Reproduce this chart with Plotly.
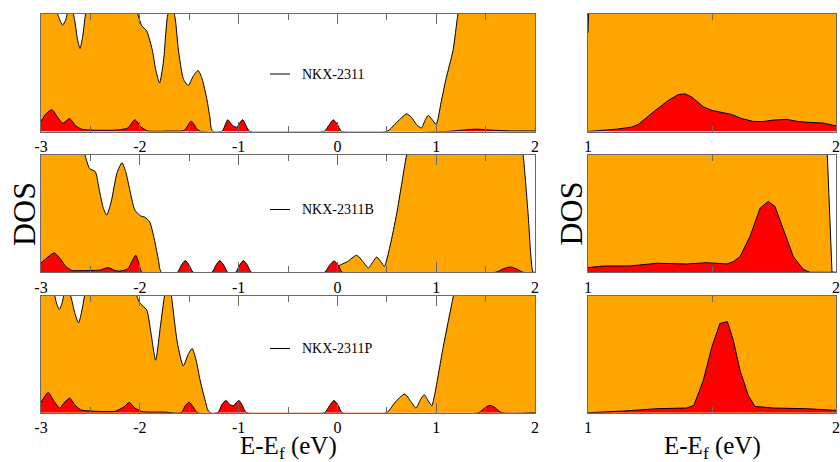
import plotly.graph_objects as go

# ---------------- data (E - Ef in eV, DOS in arbitrary units) ----------------
names = ["NKX-2311", "NKX-2311B", "NKX-2311P"]

# left panels, total DOS (orange) and projected DOS (red)
e_tot_a = [-3.0, -2.9, -2.85, -2.81, -2.78, -2.75, -2.72, -2.69, -2.66, -2.63, -2.605, -2.58, -2.55,
           -2.5, -2.3, -2.1, -2.02,
           -1.98, -1.93, -1.87, -1.84, -1.80, -1.76, -1.72, -1.68, -1.64, -1.61, -1.56, -1.51, -1.46,
           -1.41, -1.37, -1.32, -1.29, -1.26, 0.50, 0.58, 0.64, 0.70, 0.75, 0.80, 0.85, 0.89, 0.92,
           0.96, 1.0, 1.05, 1.10, 1.17, 1.22, 1.3, 2.0]
dos_tot_a = [1.5, 1.3, 1.05, 0.95, 0.906, 0.95, 1.05, 1.05, 0.95, 0.78, 0.707, 0.8, 1.0,
             1.4, 1.6, 1.3, 1.0,
             0.9, 0.855, 0.68, 0.53, 0.413, 0.6, 0.98, 1.1, 0.95, 0.70, 0.45, 0.39, 0.47,
             0.52, 0.45, 0.27, 0.12, 0.0, 0.0, 0.06, 0.11, 0.15, 0.12, 0.06, 0.03, 0.10, 0.137,
             0.10, 0.06, 0.25, 0.45, 0.69, 1.0, 1.4, 1.5]
e_pdos_a = [-3.0, -2.95, -2.89, -2.83, -2.78, -2.71, -2.65, -2.59, -2.5, -2.3, -2.2, -2.12, -2.05,
            -1.99, -1.92, -1.7, -1.55, -1.48, -1.42, -1.38, -1.17, -1.11, -1.06, -1.02, -0.96,
            -0.885, -0.136, -0.08, -0.042, 0.0, 0.043, 1.1, 1.25, 1.39, 1.55, 1.75, 2.0]
dos_pdos_a = [0.085, 0.15, 0.185, 0.12, 0.07, 0.11, 0.05, 0.02, 0.012, 0.01, 0.015, 0.03, 0.10,
              0.04, 0.005, 0.004, 0.01, 0.088, 0.02, 0.0, 0.0, 0.10, 0.05, 0.037, 0.10,
              0.0, 0.0, 0.06, 0.10, 0.06, 0.0, 0.0, 0.01, 0.02, 0.012, 0.005, 0.005]

e_tot_b = [-3.0, -2.7, -2.58, -2.555, -2.51, -2.45, -2.41, -2.37, -2.335, -2.29, -2.23, -2.18, -2.14,
           -2.116, -2.05, -1.99, -1.95, -1.90, -1.85, -1.81, -1.78, -0.06, -0.02, 0.043, 0.1, 0.195,
           0.26, 0.313, 0.36, 0.398, 0.44, 0.475, 0.532, 0.6, 0.65, 0.70, 0.8, 1.8, 1.88, 1.93, 1.98, 2.0]
dos_tot_b = [1.5, 1.4, 1.05, 1.0, 0.886, 0.857, 0.7, 0.55, 0.487, 0.6, 0.85, 0.934, 0.85,
             0.76, 0.53, 0.48, 0.47, 0.43, 0.27, 0.1, 0.0, 0.0, 0.04, 0.068, 0.09, 0.145,
             0.09, 0.037, 0.09, 0.13, 0.09, 0.05, 0.22, 0.50, 0.75, 1.0, 1.4, 1.4, 1.0, 0.5, 0.0, 0.0]
e_pdos_b = [-3.0, -2.93, -2.865, -2.80, -2.75, -2.69, -2.55, -2.4, -2.32, -2.25, -2.2, -2.12, -2.07,
            -2.04, -2.01, -1.98, -1.62, -1.58, -1.54, -1.50, -1.46, -1.27, -1.23, -1.19, -1.15, -1.11,
            -1.03, -0.99, -0.952, -0.91, -0.87, -0.13, -0.08, -0.034, 0.01, 0.05, 1.6, 1.68, 1.747,
            1.81, 1.88, 2.0]
dos_pdos_b = [0.08, 0.13, 0.165, 0.11, 0.05, 0.017, 0.015, 0.02, 0.04, 0.015, 0.01, 0.03, 0.11,
              0.145, 0.08, 0.0, 0.0, 0.06, 0.10, 0.06, 0.0, 0.0, 0.06, 0.10, 0.06, 0.0,
              0.0, 0.06, 0.10, 0.06, 0.0, 0.0, 0.06, 0.097, 0.06, 0.0, 0.0, 0.03, 0.045,
              0.03, 0.0, 0.0]

e_tot_p = [-3.0, -2.9, -2.86, -2.84, -2.815, -2.79, -2.77, -2.74, -2.70, -2.66, -2.62, -2.59, -2.56,
           -2.52, -2.3, -2.06, -2.03, -2.0,
           -1.93, -1.89, -1.84, -1.79, -1.75, -1.71, -1.68, -1.62, -1.56, -1.51, -1.47, -1.43, -1.39,
           -1.34, -1.29, 0.498, 0.566, 0.63, 0.684, 0.74, 0.796, 0.84, 0.88, 0.92, 0.955, 0.988,
           1.072, 1.174, 1.3, 2.0]
dos_tot_p = [1.5, 1.2, 1.0, 0.93, 0.886, 0.93, 1.0, 1.05, 1.0, 0.86, 0.77, 0.86, 1.0,
             1.2, 1.5, 1.1, 1.0, 0.94,
             0.88, 0.70, 0.45, 0.75, 1.0, 1.15, 1.0, 0.6, 0.40, 0.50, 0.55, 0.45, 0.28,
             0.11, 0.0, 0.0, 0.07, 0.13, 0.16, 0.1, 0.04, 0.11, 0.154, 0.1, 0.06, 0.17,
             0.567, 1.0, 1.5, 1.5]
e_pdos_p = [-3.0, -2.926, -2.87, -2.81, -2.76, -2.71, -2.66, -2.60, -2.45, -2.25, -2.16, -2.106, -2.05,
            -1.98, -1.75, -1.58, -1.54, -1.50, -1.46, -1.42, -1.21, -1.17, -1.128, -1.09, -1.054,
            -1.02, -0.996, -0.96, -0.92, -0.13, -0.08, -0.034, 0.01, 0.05, 1.43, 1.49, 1.545, 1.60,
            1.66, 2.0]
dos_pdos_p = [0.088, 0.174, 0.10, 0.04, 0.09, 0.126, 0.07, 0.026, 0.012, 0.012, 0.05, 0.088, 0.04,
              0.01, 0.005, 0.0, 0.06, 0.09, 0.05, 0.0, 0.0, 0.07, 0.105, 0.07, 0.06,
              0.09, 0.105, 0.06, 0.0, 0.0, 0.06, 0.105, 0.06, 0.0, 0.0, 0.04, 0.063, 0.04,
              0.0, 0.0]

# right panels (zoom 1-2 eV, enlarged DOS scale)
ez_tot_a = [1.0, 1.006, 2.0]
dz_tot_a = [0.84, 1.3, 1.3]
ez_pdos_a = [1.0, 1.116, 1.176, 1.203, 1.263, 1.324, 1.364, 1.391, 1.418, 1.465, 1.499, 1.539, 1.579,
             1.62, 1.667, 1.707, 1.747, 1.801, 1.848, 1.895, 1.949, 2.0]
dz_pdos_a = [0.0, 0.02, 0.037, 0.06, 0.165, 0.265, 0.314, 0.32, 0.294, 0.21, 0.18, 0.165, 0.145,
             0.11, 0.085, 0.085, 0.097, 0.103, 0.085, 0.077, 0.072, 0.048]

ez_tot_b = [1.0, 1.95, 1.965, 1.984, 2.0]
dz_tot_b = [1.3, 1.3, 1.0, 0.0, 0.0]
ez_pdos_b = [1.0, 1.062, 1.169, 1.277, 1.398, 1.479, 1.56, 1.586, 1.613, 1.653, 1.694, 1.727, 1.754,
             1.788, 1.828, 1.868, 1.895, 2.0]
dz_pdos_b = [0.04, 0.054, 0.054, 0.077, 0.071, 0.082, 0.071, 0.091, 0.133, 0.304, 0.547, 0.604, 0.561,
             0.362, 0.133, 0.025, 0.0, 0.0]

ez_tot_p = [1.0, 2.0]
dz_tot_p = [1.3, 1.3]
ez_pdos_p = [1.0, 1.142, 1.277, 1.398, 1.427, 1.465, 1.499, 1.532, 1.562, 1.586, 1.613, 1.646, 1.673,
             1.747, 1.882, 1.99, 2.0]
dz_pdos_p = [0.0, 0.014, 0.034, 0.04, 0.063, 0.277, 0.56, 0.765, 0.78, 0.62, 0.363, 0.149, 0.054,
             0.04, 0.034, 0.02, 0.02]

left_tickvals = [-3, -2, -1, 0, 1, 2]
left_ticktext = ["-3", "-2", "-1", "0", "1", "2"]
right_tickvals = [1, 2]
right_ticktext = ["1", "2"]

# ---------------- figure ----------------
W, H = 840, 462
ORANGE = "#FFA500"
RED = "#FF0000"
FRAME = "#6a6a6a"
FONT = "Liberation Serif"

panels = [
    (e_tot_a, dos_tot_a, e_pdos_a, dos_pdos_a, "spline"),
    (e_tot_b, dos_tot_b, e_pdos_b, dos_pdos_b, "spline"),
    (e_tot_p, dos_tot_p, e_pdos_p, dos_pdos_p, "spline"),
    (ez_tot_a, dz_tot_a, ez_pdos_a, dz_pdos_a, "linear"),
    (ez_tot_b, dz_tot_b, ez_pdos_b, dz_pdos_b, "linear"),
    (ez_tot_p, dz_tot_p, ez_pdos_p, dz_pdos_p, "linear"),
]

fig = go.Figure()
for i, (ex, ey, px, py, shape) in enumerate(panels):
    k = "" if i == 0 else str(i + 1)
    for xs, ys, col in ((ex, ey, ORANGE), (px, py, RED)):
        fig.add_trace(go.Scatter(
            x=xs, y=ys, mode="lines", fill="tozeroy", fillcolor=col,
            line=dict(color="black", width=1, shape=shape, smoothing=0.6),
            xaxis="x" + k, yaxis="y" + k, showlegend=False, hoverinfo="skip"))

rows_px = [(14, 131.5), (155, 272.3), (296, 412.7)]
cols_px = [(41, 535), (588, 836)]

layout = dict(width=W, height=H, margin=dict(l=0, r=0, t=0, b=0),
              paper_bgcolor="white", plot_bgcolor="white", showlegend=False,
              font=dict(family=FONT, color="black"))

for i in range(6):
    c = 0 if i < 3 else 1
    r = i % 3
    k = "" if i == 0 else str(i + 1)
    x0, x1 = cols_px[c]
    yt, yb = rows_px[r]
    if c == 0:
        rng, tv, tt = [-3, 2], left_tickvals, left_ticktext
    else:
        rng, tv, tt = [1, 2], right_tickvals, right_ticktext
    layout["xaxis" + k] = dict(
        domain=[x0 / W, x1 / W], anchor="y" + k, range=rng,
        tickvals=tv, ticktext=tt, ticks="inside", ticklen=10, tickwidth=1,
        tickcolor=FRAME, showline=True, linecolor=FRAME, linewidth=1, mirror="allticks",
        showgrid=False, zeroline=False, automargin=False,
        minor=dict(dtick=0.5, tick0=0, ticks="inside", ticklen=6, tickcolor=FRAME, showgrid=False),
        tickfont=dict(family=FONT, size=16, color="black"))
    layout["yaxis" + k] = dict(
        domain=[1 - yb / H, 1 - yt / H], anchor="x" + k, range=[0, 1],
        showticklabels=False, ticks="", showline=True, linecolor=FRAME, linewidth=1,
        mirror=True, showgrid=False, zeroline=False, automargin=False)

fig.update_layout(**layout)

# legends (line sample + label) in the left panels
legend_y = [74, 209.5, 348.5]
for name, ly in zip(names, legend_y):
    fig.add_shape(type="line", xref="paper", yref="paper",
                  x0=270 / W, x1=290 / W, y0=1 - ly / H, y1=1 - ly / H,
                  line=dict(color="black", width=1))
    fig.add_annotation(text=name, xref="paper", yref="paper", x=300 / W, y=1 - ly / H,
                       xanchor="left", yanchor="middle", showarrow=False,
                       font=dict(family=FONT, size=14, color="black"))

# axis titles
for xc in (24, 570.5):
    fig.add_annotation(text="DOS", xref="paper", yref="paper", x=xc / W, y=1 - 214 / H,
                       textangle=-90, showarrow=False, xanchor="center", yanchor="middle",
                       font=dict(family=FONT, size=32, color="black"))
for xc in (288, 712):
    fig.add_annotation(text="E-E<sub>f</sub> (eV)", xref="paper", yref="paper", x=xc / W,
                       y=1 - 447 / H, showarrow=False, xanchor="center", yanchor="middle",
                       font=dict(family=FONT, size=25, color="black"))

fig.write_html("out.html", config={"displayModeBar": False},
               post_script="document.body.style.margin='0';document.body.style.overflow='hidden';")
